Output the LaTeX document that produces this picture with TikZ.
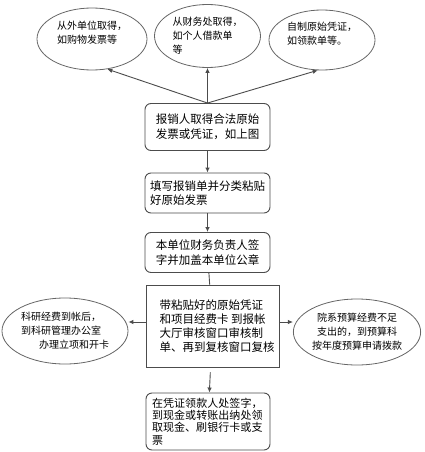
\documentclass[tikz,border=0pt]{standalone}
\usepackage{fontspec}
\setmainfont{Noto Sans CJK SC}
\XeTeXlinebreaklocale "zh"
\XeTeXlinebreakskip=0pt plus 1pt
\usetikzlibrary{shapes.geometric,arrows.meta,positioning}

\tikzset{
  flowbox/.style={draw=black!70, line width=0.9pt, rounded corners=6pt, fill=white,
    font=\fontsize{11.5}{14.5}\selectfont, align=left, inner sep=2pt},
  checkbox/.style={draw=black!70, line width=0.9pt, fill=white,
    font=\fontsize{11.5}{13.8}\selectfont, align=left, inner sep=2pt},
  source/.style={ellipse, draw=black!60, line width=0.8pt, fill=white,
    font=\fontsize{10}{14}\selectfont, align=left, inner sep=0pt},
  link/.style={draw=black!70, line width=0.9pt},
  arr/.style={link, -{Latex[length=5pt,width=4.5pt]}}
}

\begin{document}
\begin{tikzpicture}[x=1pt,y=-1pt]
  \useasboundingbox (0,0) rectangle (425,452);

  % sources of the original vouchers
  \node[source, minimum width=110pt, minimum height=62pt] (outer) at (92,39)
    {从外单位取得，\\如购物发票等\\\mbox{}};
  \node[source, minimum width=106pt, minimum height=63pt] (finance) at (207.5,36)
    {从财务处取得，\\如个人借款单\\等};
  \node[source, minimum width=106pt, minimum height=60pt] (self) at (322,40)
    {自制原始凭证，\\如领款单等。\\\mbox{}};

  % main flow
  \node[flowbox, minimum width=125pt, minimum height=47pt] (obtain) at (207.5,127)
    {报销人取得合法原始\\发票或凭证，如上图};
  \node[flowbox, minimum width=125pt, minimum height=40pt] (fill) at (207.5,193)
    {填写报销单并分类粘贴\\好原始发票};
  \node[flowbox, minimum width=125pt, minimum height=40pt] (sign) at (207.5,252.5)
    {本单位财务负责人签\\字并加盖本单位公章};
  \node[checkbox, minimum width=133pt, minimum height=82pt] (check) at (212.5,326)
    {\hspace*{9pt}带粘贴好的原始凭证\\\hspace*{9pt}和项目经费卡 到报帐\\\hspace*{9pt}大厅审核窗口审核制\\\hspace*{9pt}单、再到复核窗口复核};
  \node[flowbox, minimum width=124pt, minimum height=57pt, font=\fontsize{11}{12.3}\selectfont,
    text width=112pt, inner sep=4pt] (pay) at (208,421.5)
    {在凭证领款人处签字，到现金或转账出纳处领取现金、刷银行卡或支票};

  % side branches
  \node[source, minimum width=126pt, minimum height=66pt] (research) at (65,331)
    {科研经费到帐后，\\到科研管理办公室\\\hspace*{18pt}办理立项和开卡};
  \node[source, minimum width=125pt, minimum height=66pt, align=center] (budget) at (357,332)
    {院系预算经费不足\\支出的，到预算科\\按年度预算申请拨款};

  % arrows
  \coordinate (leftout) at ([yshift=4pt]check.west);
  \coordinate (rightout) at ([yshift=4pt]check.east);
  \draw[arr] (obtain.north) -- (outer.-63);
  \draw[arr] (obtain.north) -- (finance.south);
  \draw[arr] (obtain.north) -- (self.-98);
  \draw[arr] (obtain) -- (fill);
  \draw[arr] (fill) -- (sign);
  \draw[link] (sign) -- (check);
  \draw[arr, shorten <=5pt] (check) -- (pay);
  \draw[arr] (leftout) -- (research.east |- leftout);
  \draw[arr] (rightout) -- (budget.west |- rightout);

\end{tikzpicture}
\end{document}
